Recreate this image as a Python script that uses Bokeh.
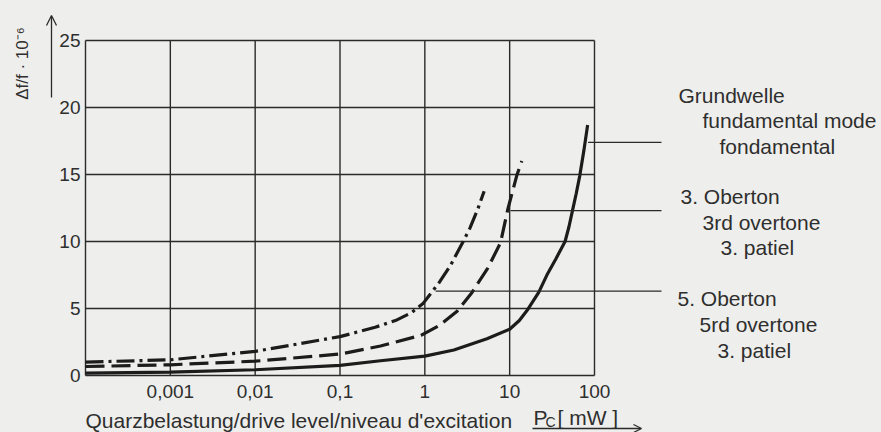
import numpy as np
from bokeh.plotting import figure
from bokeh.models import Label, Arrow, OpenHead, Range1d
from bokeh.core.properties import value
from bokeh.embed import file_html
from bokeh.resources import INLINE

# ---------------- data ----------------
x_ticks = [0.001, 0.01, 0.1, 1, 10, 100]
x_tick_labels = ["0,001", "0,01", "0,1", "1", "10", "100"]
y_ticks = [0, 5, 10, 15, 20, 25]
y_tick_labels = ["0", "5", "10", "15", "20", "25"]
x_min, x_max = 0.0001, 100
y_min, y_max = 0, 25

# Grundwelle / fundamental mode (solid)
fund_x = [0.0001, 0.001, 0.01, 0.1, 0.3, 1, 2.2, 5.4, 10, 13, 16, 22, 28, 35, 45, 50, 55, 61, 67, 75, 83]
fund_y = [0.17, 0.25, 0.43, 0.75, 1.1, 1.45, 1.9, 2.75, 3.45, 4.1, 4.85, 6.2, 7.6, 8.7, 10.0, 11.1, 12.3, 13.6, 14.9, 16.8, 18.7]

# 3. Oberton / 3rd overtone (dashed)
ot3_x = [0.0001, 0.001, 0.01, 0.1, 0.3, 0.9, 1.5, 2.4, 3.6, 5.5, 7.8, 9.5, 12.1, 13.9]
ot3_y = [0.67, 0.8, 1.07, 1.6, 2.2, 3.0, 3.75, 4.8, 6.2, 8.0, 9.9, 12.4, 14.9, 16.0]

# 5. Oberton / 5th overtone (dash-dot)
ot5_x = [0.0001, 0.001, 0.01, 0.1, 0.26, 0.45, 0.7, 0.96, 1.17, 1.5, 2.0, 2.87, 3.4, 4.2, 5.0]
ot5_y = [1.0, 1.17, 1.8, 2.9, 3.6, 4.1, 4.7, 5.4, 6.1, 7.0, 8.2, 10.07, 11.0, 12.4, 13.75]

# y-level where each label leader line leaves its curve
leader_y = [17.4, 12.3, 6.3]

label_fund = ["Grundwelle", "fundamental mode", "fondamental"]
label_ot3 = ["3. Oberton", "3rd overtone", "3. patiel"]
label_ot5 = ["5. Oberton", "5rd overtone", "3. patiel"]

x_title = "Quarzbelastung/drive level/niveau d'excitation"
y_title = "\u0394f/f \u00b7 10\u207b\u2076"

# ---------------- layout / style ----------------
BG = "#eeeeec"
INK = "#1c1c1c"
GRID = "#2a2a2a"
TXT = "#2e2e2e"
FONT = "Liberation Sans"

W, H = 881, 432
BOX_L, BOX_R, BOX_T, BOX_B = 85, 594, 40, 375   # chart box in page pixels
KX = (BOX_R - BOX_L) / (np.log10(x_max) - np.log10(x_min))   # px per decade
KY = (BOX_B - BOX_T) / (y_max - y_min)                        # px per unit

# the frame covers the whole canvas; ranges are chosen so the box sits where it should
xr = Range1d(10 ** (np.log10(x_min) - BOX_L / KX), 10 ** (np.log10(x_max) + (W - BOX_R) / KX))
yr = Range1d(y_min - (H - BOX_B) / KY, y_max + BOX_T / KY)

p = figure(x_axis_type="log", x_range=xr, y_range=yr, width=W, height=H,
           min_border=0, x_axis_location=None, y_axis_location=None, title=None,
           output_backend="svg", toolbar_location=None,
           background_fill_color=BG, border_fill_color=BG, outline_line_color=None)
p.grid.visible = False

def X(px):
    return 10 ** (np.log10(x_min) + (px - BOX_L) / KX)

def Y(py):
    return y_min + (BOX_B - py) / KY

# grid and box
vx = [x_min] + x_ticks
p.segment(x0=vx, y0=[y_min] * len(vx), x1=vx, y1=[y_max] * len(vx), line_color=GRID, line_width=1.4)
p.segment(x0=[x_min] * len(y_ticks), y0=y_ticks, x1=[x_max] * len(y_ticks), y1=y_ticks,
          line_color=GRID, line_width=1.4)

# tick labels
p.text(x=x_ticks, y=[Y(391)] * len(x_ticks), text=x_tick_labels, text_font=value(FONT),
       text_font_size=value("19px"), text_color=TXT, text_align="center", text_baseline="middle")
p.text(x=[X(80)] * len(y_ticks), y=y_ticks, text=y_tick_labels, text_font=value(FONT),
       text_font_size=value("19px"), text_color=TXT, text_align="right", text_baseline="middle")

# curves
p.line(fund_x, fund_y, line_color=INK, line_width=3.2)
p.line(ot3_x, ot3_y, line_color=INK, line_width=3.2, line_dash="19 7")
p.line(ot5_x, ot5_y, line_color=INK, line_width=3.2, line_dash="18 5 3 5")

# leader lines from curves to the labels
lx0 = []
for (cx, cy), yv in zip([(fund_x, fund_y), (ot3_x, ot3_y), (ot5_x, ot5_y)], leader_y):
    lx0.append(10 ** np.interp(yv, cy, np.log10(cx)) * 10 ** (3 / KX))
p.segment(x0=lx0, y0=leader_y, x1=[X(661)] * 3, y1=leader_y, line_color=GRID, line_width=1.2)

def lbl(text, px, py, size="21px", align="left", baseline="middle", angle=0.0):
    p.add_layout(Label(x=X(px), y=Y(py), text=text, text_font=FONT, text_font_size=size,
                       text_color=TXT, text_align=align, text_baseline=baseline, angle=angle))

for t, px, py in zip(label_fund, [678, 702, 719], [95, 120, 146]):
    lbl(t, px, py)
for t, px, py in zip(label_ot3, [680, 702, 720], [196, 222, 247]):
    lbl(t, px, py)
for t, px, py in zip(label_ot5, [677, 699, 717], [298, 324, 350]):
    lbl(t, px, py)

# axis titles
lbl(x_title, 85, 420)
lbl("P", 533, 417)
lbl("C", 545, 421, size="14px")
lbl("[ mW ]", 557, 417)
p.add_layout(Arrow(end=OpenHead(size=8, line_width=1.3, line_color=GRID),
                   x_start=X(532), y_start=Y(428), x_end=X(641), y_end=Y(428),
                   line_color=GRID, line_width=1.3))

lbl(y_title, 22, 63, size="17px", align="center", angle=np.pi / 2)
p.add_layout(Arrow(end=OpenHead(size=10, line_width=1.3, line_color=GRID),
                   x_start=X(51), y_start=Y(97), x_end=X(51), y_end=Y(15),
                   line_color=GRID, line_width=1.3))

html = file_html(p, INLINE)
html = html.replace("<head>", "<head><style>body{background:%s;}</style>" % BG, 1)
open("out.html", "w").write(html)
